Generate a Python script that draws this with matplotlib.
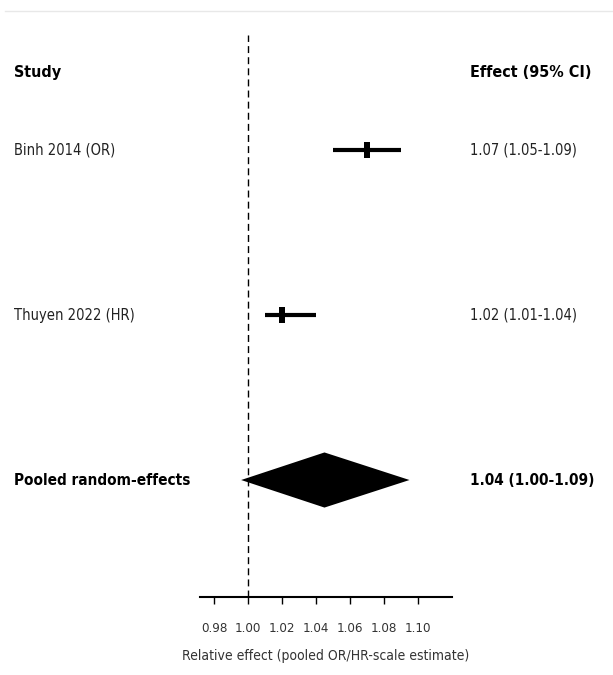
import matplotlib
matplotlib.use("Agg")
import matplotlib.pyplot as plt
from matplotlib.transforms import blended_transform_factory
from matplotlib.lines import Line2D

studies = ["Binh 2014 (OR)", "Thuyen 2022 (HR)"]
est = [1.07, 1.02]
lo = [1.05, 1.01]
hi = [1.09, 1.04]
study_labels = ["1.07 (1.05-1.09)", "1.02 (1.01-1.04)"]
pooled_est, pooled_lo, pooled_hi = 1.045, 0.996, 1.095
pooled_label = "1.04 (1.00-1.09)"
xticks = [0.98, 1.00, 1.02, 1.04, 1.06, 1.08, 1.10]

plt.rcParams["font.family"] = "DejaVu Sans"
plt.rcParams["font.stretch"] = "condensed"

fig = plt.figure(figsize=(6.13, 6.75), dpi=100)
ax = fig.add_axes([200 / 613, 78 / 675, 252 / 613, 562 / 675])

rows = [2, 1]
box = [(-0.45, -1), (0.45, -1), (0.45, 1), (-0.45, 1)]
for y, e, l, h in zip(rows, est, lo, hi):
    ax.plot([l, h], [y, y], color="black", lw=3, solid_capstyle="butt")
    ax.plot([e], [y], marker=box, color="black", markersize=11, markeredgewidth=0)

dh = 0.167
ax.fill([pooled_lo, pooled_est, pooled_hi, pooled_est], [0, dh, 0, -dh],
        color="black", lw=0)

ax.axvline(1.0, color="black", lw=1, ls=(0, (5, 3)))

ax.set_xlim(0.9718, 1.12)
ax.set_ylim(-0.709, 2.697)
ax.set_xticks(xticks)
ax.set_xticklabels([f"{t:.2f}" for t in xticks], fontsize=9.5, color="#333333")
ax.tick_params(axis="x", direction="out", length=5, width=1, pad=13)
ax.set_yticks([])
for s in ["top", "left", "right"]:
    ax.spines[s].set_visible(False)
ax.spines["bottom"].set_linewidth(1.5)
ax.set_xlabel("Relative effect (pooled OR/HR-scale estimate)", fontsize=10,
              color="#333333", labelpad=10)

tr = blended_transform_factory(fig.transFigure, ax.transData)
xl, xr = 14 / 613, 470 / 613
fig.text(xl, 2.467, "Study", transform=tr, fontsize=11.5, fontweight="bold", va="center")
fig.text(xr, 2.467, "Effect (95% CI)", transform=tr, fontsize=11.5, fontweight="bold", va="center")
for y, s, lab in zip(rows, studies, study_labels):
    fig.text(xl, y, s, transform=tr, fontsize=10.5, va="center", color="#222222")
    fig.text(xr, y, lab, transform=tr, fontsize=10.5, va="center", color="#222222")
fig.text(xl, 0, "Pooled random-effects", transform=tr, fontsize=11,
         fontweight="bold", va="center")
fig.text(xr, 0, pooled_label, transform=tr, fontsize=11, fontweight="bold", va="center")

fig.add_artist(Line2D([5 / 613, 1], [1 - 11 / 675, 1 - 11 / 675],
                      transform=fig.transFigure, color="#e8e8e8", lw=1))

fig.savefig("out.png", dpi=100)
